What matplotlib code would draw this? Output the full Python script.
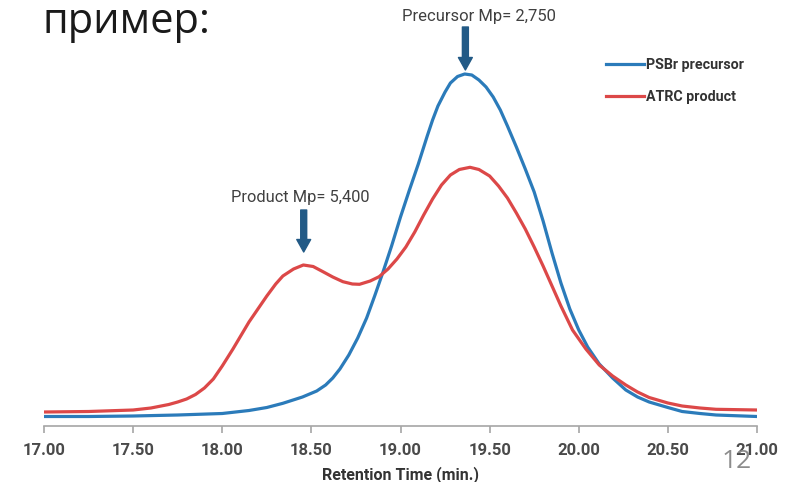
"""GPC trace: PSBr precursor vs ATRC product (slide 12)."""

import matplotlib

matplotlib.use("Agg")
import matplotlib.pyplot as plt
from matplotlib.lines import Line2D

# retention time (min.) and detector signal
precursor_time = [
    17.00, 17.25, 17.50, 17.75, 18.00, 18.15, 18.25, 18.34, 18.45, 18.53,
    18.58, 18.62, 18.66, 18.71, 18.76, 18.81, 18.855, 18.90, 18.95, 19.00,
    19.05, 19.10, 19.15, 19.18, 19.21, 19.25, 19.28, 19.32, 19.36, 19.40,
    19.44, 19.48, 19.52, 19.56, 19.60, 19.65, 19.70, 19.75, 19.80, 19.85,
    19.90, 19.95, 20.00, 20.05, 20.115, 20.19, 20.264, 20.33, 20.395, 20.50,
    20.58, 20.68, 20.77, 21.00,
]
precursor_signal = [
    9.5, 9.5, 10, 11, 12.5, 15.5, 18.5, 22.7, 29, 35,
    41, 48, 57, 71, 88, 108, 130, 153, 180, 209,
    236, 262, 290, 306, 320, 334, 343, 349.5, 352, 351,
    346, 339, 329, 316, 300, 279, 257, 234, 205, 173,
    143, 117, 96, 79, 62, 48, 36, 29, 24, 18.5,
    14.5, 12.5, 11, 9.5,
]

product_time = [
    17.00, 17.25, 17.50, 17.60, 17.70, 17.75, 17.80, 17.85, 17.90, 17.95,
    18.00, 18.06, 18.15, 18.25, 18.30, 18.34, 18.40, 18.455, 18.51, 18.565,
    18.62, 18.677, 18.73, 18.77, 18.83, 18.88, 18.93, 18.98, 19.03, 19.08,
    19.13, 19.18, 19.23, 19.28, 19.33, 19.39, 19.44, 19.50, 19.55, 19.60,
    19.65, 19.70, 19.75, 19.80, 19.85, 19.90, 19.965, 20.04, 20.115, 20.19,
    20.264, 20.33, 20.395, 20.50, 20.58, 20.68, 20.77, 21.00,
]
product_signal = [
    14, 14.5, 16, 18, 21.5, 24, 27, 31.5, 38, 47,
    60, 77, 104, 130, 142, 150, 157, 161, 159.5, 154.3,
    149, 144.3, 142, 141.7, 145, 149.3, 157, 167, 179, 194,
    211, 227, 241, 251, 256.5, 258.7, 256.5, 250, 240, 228,
    213, 197, 179, 160, 140, 120, 96, 77, 61, 50,
    41, 34, 28.5, 23, 20, 18, 16.7, 16,
]

series_labels = ["PSBr precursor", "ATRC product"]
x_ticks = [17.0, 17.5, 18.0, 18.5, 19.0, 19.5, 20.0, 20.5, 21.0]

peak_labels = ["Precursor Mp= 2,750", "Product Mp= 5,400"]
peak_times = [19.364, 18.457]

BLUE = "#2b7bba"
RED = "#dc4848"
ARROW = "#225a86"
FONT = ["Roboto", "DejaVu Sans"]

fig = plt.figure(figsize=(8.02, 4.82), dpi=100)
ax = fig.add_axes([44 / 802, 56 / 482, 713 / 802, 426 / 482])
ax.set_xlim(17.0, 21.0)
ax.set_ylim(0, 426)

ax.plot(precursor_time, precursor_signal, color=BLUE, linewidth=2.3,
        solid_joinstyle="round", solid_capstyle="round")
ax.plot(product_time, product_signal, color=RED, linewidth=2.3,
        solid_joinstyle="round", solid_capstyle="round")

for side in ("top", "right", "left"):
    ax.spines[side].set_visible(False)
ax.spines["bottom"].set_color("#a6a6a6")
ax.spines["bottom"].set_linewidth(1.2)
ax.set_yticks([])
ax.set_xticks(x_ticks)
ax.set_xticklabels([f"{t:.2f}" for t in x_ticks], family=FONT,
                   fontweight="bold", fontsize=12, color="#4a4a4a")
ax.tick_params(axis="x", direction="out", length=5, width=1.2,
               color="#a6a6a6", pad=7)
ax.set_xlabel("Retention Time (min.)", family=FONT, fontweight="bold",
              fontsize=11.5, color="#333333", labelpad=6)

# peak markers
ax.annotate("", xy=(peak_times[0], 356), xytext=(peak_times[0], 399),
            arrowprops=dict(width=4.3, headwidth=10, headlength=9,
                            color=ARROW, shrink=0))
ax.text(19.44, 409, peak_labels[0], ha="center", va="center",
        family=FONT, fontsize=12, color="#404040")
ax.annotate("", xy=(peak_times[1], 174), xytext=(peak_times[1], 216),
            arrowprops=dict(width=4.3, headwidth=10, headlength=9,
                            color=ARROW, shrink=0))
ax.text(18.436, 228.5, peak_labels[1], ha="center", va="center",
        family=FONT, fontsize=11.8, color="#404040")

handles = [Line2D([], [], color=BLUE, linewidth=2.3),
           Line2D([], [], color=RED, linewidth=2.3)]
leg = fig.legend(handles, series_labels, loc="upper left",
                 bbox_to_anchor=(606 / 802, 1 - 58 / 482), frameon=False,
                 handlelength=2.65, handletextpad=0.15, labelspacing=1.25,
                 borderpad=0, borderaxespad=0,
                 prop={"family": FONT, "weight": "bold", "size": 10.3})
for text in leg.get_texts():
    text.set_color("#333333")

fig.text(42 / 802, 1 - 33 / 482, "пример:", family=["Open Sans", "DejaVu Sans"],
         fontsize=30, color="#1a1a1a", va="baseline", ha="left")
fig.text(737 / 802, 1 - 468 / 482, "12", family=["Open Sans", "DejaVu Sans"],
         fontsize=19, color="#8c8c8c", va="baseline", ha="center")

fig.savefig("out.png", dpi=100)
